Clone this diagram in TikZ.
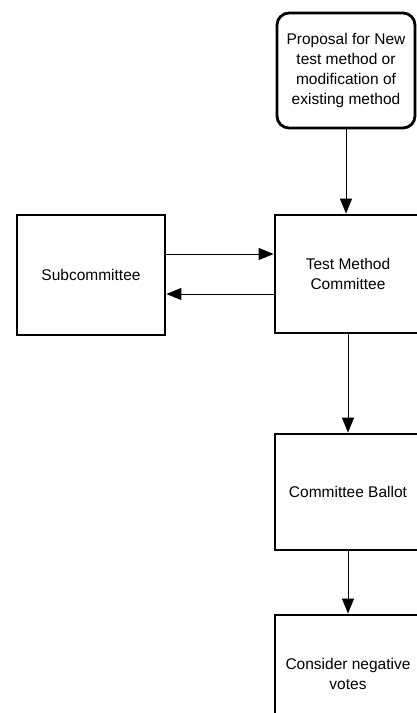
\documentclass[tikz,border=0pt]{standalone}
\usepackage{fontspec}
\setmainfont{Liberation Sans}
\usetikzlibrary{arrows.meta}
\begin{document}
\begin{tikzpicture}[x=1pt,y=1pt]
		\tikzstyle{every node}+=[inner sep=0pt, align=center, font=\fontsize{15.5}{20}\selectfont]
		\tikzstyle{box}=[draw, line width=2.8pt, minimum width=146pt, minimum height=118pt]
		\tikzstyle{arr}=[line width=1pt, -{Triangle[length=15pt,width=12pt]}]
		\useasboundingbox (0,0) rectangle (417,-713);
		\node [box, rounded corners=12pt, minimum width=138pt, minimum height=115pt] (proposal) at (346,-70.5) {Proposal for New\\test method or\\modification of\\existing method};
		\node [box] (tmc) at (348,-274) {Test Method\\Committee};
		\node [box, minimum width=148pt, minimum height=120pt] (sub) at (91,-275) {Subcommittee};
		\node [box, minimum height=116pt] (ballot) at (348,-492) {Committee Ballot};
		\node [box] (votes) at (348,-674) {Consider negative\\votes};
		\draw [arr] (proposal.south) -- (proposal.south |- tmc.north);
		\draw [arr] ([yshift=21pt]sub.east) -- ([yshift=21pt]sub.east -| tmc.west);
		\draw [arr] ([yshift=-19pt]sub.east -| tmc.west) -- ([yshift=-19pt]sub.east);
		\draw [arr] (tmc) -- (ballot);
		\draw [arr] (ballot) -- (votes);
\end{tikzpicture}
\end{document}
